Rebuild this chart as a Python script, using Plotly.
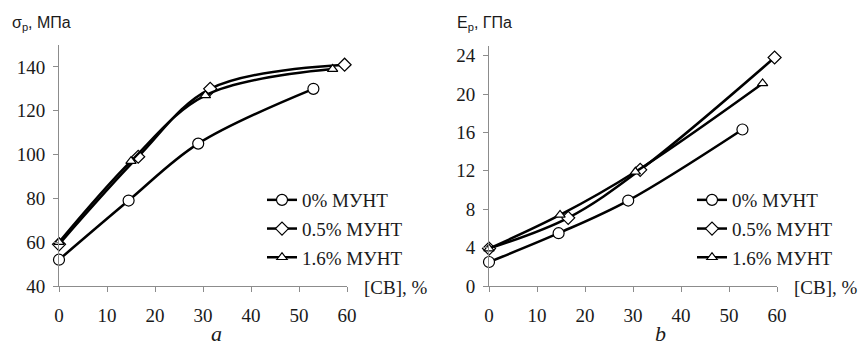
import plotly.graph_objects as go

# ---- data ----
series_names = ["0% МУНТ", "0.5% МУНТ", "1.6% МУНТ"]
symbols = ["circle", "diamond", "triangle-up"]

# panel a: tensile strength, MPa
a_x_0 = [0, 14.5, 29, 53]
a_y_0 = [52, 79, 105, 130]
a_x_05 = [0, 16.5, 31.5, 59.5]
a_y_05 = [59, 99, 130, 141]
a_x_16 = [0, 15, 30.5, 57]
a_y_16 = [60, 97, 127, 139]

# panel b: modulus, GPa
b_x_0 = [0, 14.5, 29, 52.8]
b_y_0 = [2.5, 5.5, 8.9, 16.3]
b_x_05 = [0, 16.5, 31.5, 59.5]
b_y_05 = [3.9, 7.1, 12.1, 23.8]
b_x_16 = [0, 14.8, 30.5, 57]
b_y_16 = [3.9, 7.4, 11.9, 21.1]

x_ticks = [0, 10, 20, 30, 40, 50, 60]
a_y_ticks = [40, 60, 80, 100, 120, 140]
b_y_ticks = [0, 4, 8, 12, 16, 20, 24]

SERIF = "Times New Roman"
SANS = "Liberation Sans"
marker_sizes = [11, 10, 9]

fig = go.Figure()

a_data = [(a_x_0, a_y_0), (a_x_05, a_y_05), (a_x_16, a_y_16)]
b_data = [(b_x_0, b_y_0), (b_x_05, b_y_05), (b_x_16, b_y_16)]

for i, (xs, ys) in enumerate(a_data):
    fig.add_trace(go.Scatter(
        x=xs, y=ys, name=series_names[i], mode="lines+markers",
        line=dict(color="black", width=2.5, shape="spline"),
        marker=dict(symbol=symbols[i], size=marker_sizes[i],
                    color="white", line=dict(color="black", width=1.2)),
        xaxis="x", yaxis="y", legend="legend", legendgroup="a%d" % i,
        cliponaxis=False))

for i, (xs, ys) in enumerate(b_data):
    fig.add_trace(go.Scatter(
        x=xs, y=ys, name=series_names[i], mode="lines+markers",
        line=dict(color="black", width=2.5, shape="spline"),
        marker=dict(symbol=symbols[i], size=marker_sizes[i],
                    color="white", line=dict(color="black", width=1.2)),
        xaxis="x2", yaxis="y2", legend="legend2", legendgroup="b%d" % i,
        cliponaxis=False))

W, H = 861, 342
def px_x(p): return p / W
def px_y(p): return 1 - p / H

leg_common = dict(font=dict(family=SERIF, size=19, color="#1a1a1a"),
                  bgcolor="rgba(0,0,0,0)", xanchor="left", yanchor="top",
                  tracegroupgap=1)

fig.update_layout(
    template="none",
    width=W, height=H, margin=dict(l=0, r=0, t=0, b=0),
    font=dict(family=SERIF, size=19, color="#1a1a1a"),
    paper_bgcolor="white", plot_bgcolor="white",
    showlegend=True,
    legend=dict(x=px_x(262), y=px_y(181), **leg_common),
    legend2=dict(x=px_x(692), y=px_y(181), **leg_common),
)
for ax, dom, rng, tv, anc, stand in [
    ("xaxis", [px_x(59), px_x(347)], [0, 60], x_ticks, "y", 7),
    ("yaxis", [px_y(286), px_y(45)], [40, 150], a_y_ticks, "x", 4),
    ("xaxis2", [px_x(489), px_x(777)], [0, 60], x_ticks, "y2", 7),
    ("yaxis2", [px_y(286), px_y(46)], [0, 25], b_y_ticks, "x2", 4),
]:
    fig.update_layout({ax: dict(
        domain=dom, range=rng, tickvals=tv, anchor=anc,
        showgrid=False, zeroline=False, showline=True, linecolor="#8c8c8c",
        linewidth=1, ticks="outside", ticklen=5, tickcolor="#8c8c8c",
        ticklabelstandoff=stand,
        tickfont=dict(family=SERIF, size=19, color="#1a1a1a"))})

annos = [
    ("σ<sub>p</sub>, МПа", 10, 23, "left", SANS, 16),
    ("E<sub>p</sub>, ГПа", 455, 23, "left", SANS, 16),
    ("[СВ], %", 362, 287, "left", SERIF, 19),
    ("[СВ], %", 792, 287, "left", SERIF, 19),
    ("<i>a</i>", 217, 333, "center", SERIF, 22),
    ("<i>b</i>", 660, 333, "center", SERIF, 22),
]
for txt, x, y, xa, fam, sz in annos:
    fig.add_annotation(text=txt, x=px_x(x), y=px_y(y), xref="paper", yref="paper",
                       showarrow=False, xanchor=xa, yanchor="middle",
                       font=dict(family=fam, size=sz, color="#1a1a1a"))

fig.write_html("out.html")
